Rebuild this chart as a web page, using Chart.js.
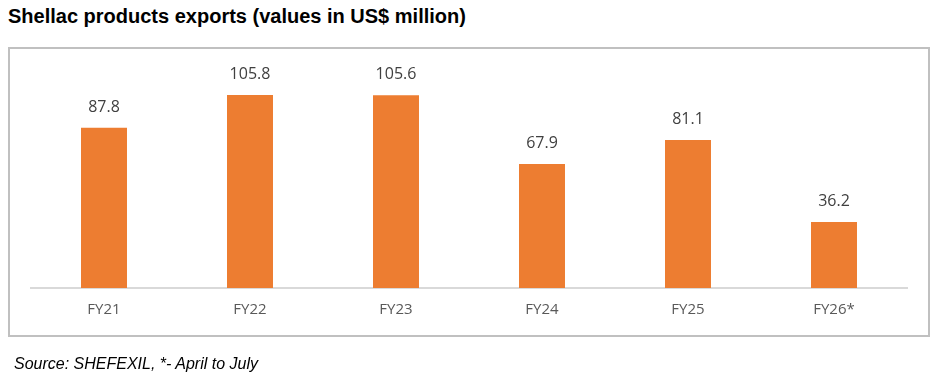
<!DOCTYPE html>
<html>
<head>
<meta charset="utf-8">
<script src="https://cdn.jsdelivr.net/npm/chart.js@4"></script>
<style>
  body { margin: 0; background: #fff; width: 938px; height: 375px; position: relative; overflow: hidden; }
  #title { position: absolute; left: 8px; top: 5px; font: bold 20px "Liberation Sans", Arial, sans-serif; color: #000; white-space: nowrap; }
  #box { position: absolute; left: 8px; top: 47px; width: 922px; height: 290px; border: 2px solid #c0c0c0; box-sizing: border-box; }
  #source { position: absolute; left: 14px; top: 355px; font: italic 16px "Liberation Sans", Arial, sans-serif; color: #000; white-space: nowrap; }
  #wrap { position: absolute; left: 0; top: 0; width: 938px; height: 375px; }
</style>
</head>
<body>
<div id="title">Shellac products exports (values in US$ million)</div>
<div id="box"></div>
<div id="wrap"><canvas id="barChart" width="938" height="375"></canvas></div>
<div id="source">Source: SHEFEXIL, *- April to July</div>
<script>
const years = ["FY21", "FY22", "FY23", "FY24", "FY25", "FY26*"];
const exportsUsd = [87.8, 105.8, 105.6, 67.9, 81.1, 36.2];

// value labels above each bar
const valueLabels = {
  id: "valueLabels",
  afterDatasetsDraw(chart) {
    const ctx = chart.ctx;
    const meta = chart.getDatasetMeta(0);
    ctx.save();
    ctx.font = '16px "Open Sans", sans-serif';
    ctx.fillStyle = "#404040";
    ctx.textAlign = "center";
    ctx.textBaseline = "alphabetic";
    meta.data.forEach((bar, i) => {
      ctx.fillText(exportsUsd[i].toFixed(1), bar.x, bar.y - 16);
    });
    ctx.restore();
  }
};

const graph = document.getElementById("barChart");
const barChart = new Chart(graph, {
  type: "bar",
  data: {
    labels: years,
    datasets: [{
      data: exportsUsd,
      backgroundColor: "#ED7D31",
      categoryPercentage: 1,
      barPercentage: 0.315
    }]
  },
  options: {
    responsive: false,
    animation: false,
    layout: { padding: { top: 69, left: 31, right: 31, bottom: 43 } },
    plugins: { legend: { display: false }, tooltip: { enabled: false } },
    scales: {
      x: {
        grid: { display: false, drawTicks: false },
        border: { display: true, color: "#d9d9d9", width: 2 },
        ticks: { color: "#595959", font: { family: "Open Sans", size: 15 }, padding: 13 }
      },
      y: { display: false, min: 0, max: 120 }
    }
  },
  plugins: [valueLabels]
});
</script>
</body>
</html>
